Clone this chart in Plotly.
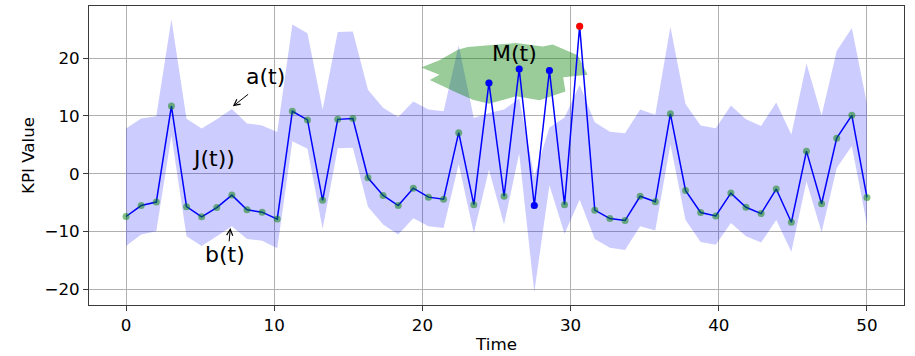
import numpy as np
import plotly.graph_objects as go

# Time axis: 50 evenly spaced samples over [0, 50]
time = np.linspace(0, 50, 50)

# Observed KPI series J(t)
kpi = [-7.4, -5.5, -4.9, 11.7, -5.7, -7.45, -5.85, -3.7, -6.25, -6.65,
       -7.85, 10.8, 9.3, -4.6, 9.4, 9.55, -0.7, -3.75, -5.5, -2.5,
       -4.05, -4.4, 7.1, -5.35, 15.7, -3.9, 18.1, -5.5, 17.85, -5.35,
       25.5, -6.3, -7.75, -8.1, -3.9, -4.85, 10.35, -2.9, -6.7, -7.3,
       -3.35, -5.8, -6.9, -2.65, -8.4, 3.9, -5.2, 6.15, 10.1, -4.1]

# Upper envelope a(t)
upper = [7.8, 9.55, 9.95, 26.7, 9.5, 7.8, 9.4, 11.2, 8.7, 8.35,
         7.2, 25.8, 24.3, 11.1, 24.5, 24.6, 14.5, 11.4, 9.8, 12.5,
         11.1, 10.8, 22.2, 9.65, 10.5, 11.1, 13.0, -0.5, 8.0, 9.7,
         15.4, 8.9, 7.25, 7.0, 11.1, 10.2, 25.4, 12.05, 8.35, 7.85,
         11.8, 9.4, 8.25, 12.3, 6.8, 19.05, 10.05, 21.2, 25.2, 12.1]

# Lower envelope b(t)
lower = [-12.5, -10.5, -9.95, 6.6, -10.8, -12.5, -10.8, -9.1, -11.3, -11.6,
         -12.9, 5.6, 4.3, -9.55, 4.4, 4.5, -5.7, -8.8, -10.5, -7.7,
         -9.1, -9.4, 1.7, -10.3, 0.7, -8.8, 3.5, -20.5, -2.0, -10.4,
         -4.5, -11.3, -12.8, -13.2, -9.1, -9.8, 5.1, -8.0, -11.8, -12.3,
         -8.5, -10.8, -11.9, -8.0, -13.5, -1.3, -10.1, 1.0, 4.8, -8.8]

# Flagged samples
anomaly_idx = [24, 26, 27, 28]
peak_idx = [30]

# Outline of the anomaly region M(t)
region_x = [19.92, 21.15, 22.39, 23.06, 26.33, 28.12, 28.79, 30.48, 31.15,
            29.5, 29.65, 27.9, 26.33, 24.5, 23.4, 22.4, 20.5, 21.15]
region_y = [18.35, 19.6, 21.45, 21.9, 22.6, 22.0, 22.35, 20.5, 17.1,
            16.7, 14.2, 12.7, 13.4, 12.1, 12.8, 13.9, 16.2, 17.1]

FONT = "DejaVu Sans"

fig = go.Figure()

# Envelope band between b(t) and a(t)
fig.add_trace(go.Scatter(x=time, y=lower, mode="lines",
                         line=dict(width=0), hoverinfo="skip", showlegend=False))
fig.add_trace(go.Scatter(x=time, y=upper, mode="lines", fill="tonexty",
                         fillcolor="rgba(0,0,255,0.2)", line=dict(width=0),
                         hoverinfo="skip", showlegend=False))

# Anomaly region polygon
fig.add_trace(go.Scatter(x=region_x + region_x[:1], y=region_y + region_y[:1],
                         mode="lines", fill="toself",
                         fillcolor="rgba(0,128,0,0.4)", line=dict(width=0),
                         showlegend=False))

# KPI line
fig.add_trace(go.Scatter(x=time, y=kpi, mode="lines",
                         line=dict(color="blue", width=1.5), showlegend=False))

# Sample markers
fig.add_trace(go.Scatter(x=time, y=kpi, mode="markers",
                         marker=dict(color="rgba(0,128,0,0.5)", size=7),
                         showlegend=False))

fig.add_trace(go.Scatter(x=[time[i] for i in anomaly_idx],
                         y=[kpi[i] for i in anomaly_idx], mode="markers",
                         marker=dict(color="blue", size=7), showlegend=False))
fig.add_trace(go.Scatter(x=[time[i] for i in peak_idx],
                         y=[kpi[i] for i in peak_idx], mode="markers",
                         marker=dict(color="red", size=7), showlegend=False))

# Text labels
labels = [("a(t)", 9.44, 16.8), ("J(t))", 5.91, 2.68),
          ("b(t)", 6.71, -14.05), ("M(t)", 26.24, 20.77)]
for txt, lx, ly in labels:
    fig.add_annotation(x=lx, y=ly, text=txt, showarrow=False,
                       font=dict(family=FONT, size=22, color="black"),
                       xanchor="center", yanchor="middle")

# Arrows pointing at the envelope curves
arrows = [((7.21, 11.65), (8.34, 13.94)), ((7.04, -9.39), (6.95, -11.95))]
for (hx, hy), (tx, ty) in arrows:
    fig.add_annotation(x=hx, y=hy, ax=tx, ay=ty, axref="x", ayref="y",
                       xref="x", yref="y", text="", showarrow=True,
                       arrowhead=5, arrowsize=1.2, arrowwidth=1,
                       arrowcolor="black")

axis_common = dict(
    showgrid=True, gridcolor="#b0b0b0", gridwidth=0.8,
    zeroline=False, showline=True, mirror=True,
    linecolor="#3a3a3a", linewidth=1,
    ticks="outside", ticklen=5, tickcolor="#3a3a3a",
    tickfont=dict(family=FONT, size=16.7, color="black"),
)

fig.update_xaxes(range=[-2.5, 52.5], tickvals=[0, 10, 20, 30, 40, 50],
                 title=dict(text="Time", font=dict(family=FONT, size=16.7, color="black"),
                            standoff=4),
                 **axis_common)
fig.update_yaxes(range=[-22.7, 29.0], tickvals=[-20, -10, 0, 10, 20],
                 title=dict(text="KPI Value", font=dict(family=FONT, size=16.7, color="black"),
                            standoff=5),
                 **axis_common)

fig.update_layout(
    width=915, height=356,
    margin=dict(l=89, r=11, t=5, b=48),
    plot_bgcolor="white", paper_bgcolor="white",
    font=dict(family=FONT),
    showlegend=False,
)

fig.write_html("out.html")
